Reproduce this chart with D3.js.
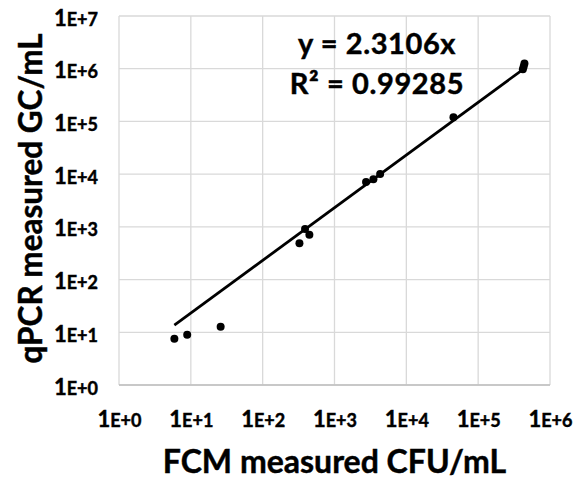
<!DOCTYPE html>
<html>
<head>
<meta charset="utf-8">
<script src="https://d3js.org/d3.v7.min.js"></script>
<style>
  body { margin: 0; background: #fff; }
  svg text { font-family: Lato, "Open Sans", sans-serif; font-weight: bold; fill: #000; stroke: #000; stroke-width: 0.45px; }
  .grid line { stroke: #d9d9d9; stroke-width: 1.3px; }
</style>
</head>
<body>
<div id="chart"></div>
<script>
// FCM (CFU/mL) vs qPCR (GC/mL)
const fcmValues = [5.9, 8.9, 26, 325, 389, 447, 2750, 3480, 4320, 45300, 419000, 430000, 441000]
const qpcrValues = [7.5, 9.0, 12.8, 489, 912, 711, 7100, 8000, 10100, 120000, 980000, 1100000, 1260000]
const slope = 2.3106
const eqLines = ['y = 2.3106x', 'R² = 0.99285']
const xTicks = [1e0, 1e1, 1e2, 1e3, 1e4, 1e5, 1e6]
const yTicks = [1e0, 1e1, 1e2, 1e3, 1e4, 1e5, 1e6, 1e7]

const width = 584
const height = 481
const margin = { top: 16, right: 34, bottom: 96, left: 119 }

const points = fcmValues.map((x, i) => ({ x, y: qpcrValues[i] }))

const svg = d3.select('#chart')
  .append('svg')
  .attr('width', width)
  .attr('height', height)

const x = d3.scaleLog().domain([1, 1e6]).range([margin.left, width - margin.right])
const y = d3.scaleLog().domain([1, 1e7]).range([height - margin.bottom, margin.top])

const expLabel = d => '1E+' + Math.round(Math.log10(d))

// the leading "1" is drawn a bit larger than "E+n", like in the source
function splitLabel(sel) {
  sel.each(function () {
    const t = d3.select(this)
    const s = t.text()
    t.text(null)
    t.append('tspan').attr('font-size', 22).text(s.slice(0, 1))
    t.append('tspan').attr('font-size', 18).text(s.slice(1))
  })
}

// gridlines
const grid = svg.append('g').attr('class', 'grid')
grid.selectAll('.vx')
  .data(xTicks)
  .enter().append('line')
    .attr('x1', d => x(d)).attr('x2', d => x(d))
    .attr('y1', y(1e7)).attr('y2', y(1))
grid.selectAll('.hy')
  .data(yTicks)
  .enter().append('line')
    .attr('x1', x(1)).attr('x2', x(1e6))
    .attr('y1', d => y(d)).attr('y2', d => y(d))

// bottom axis line a touch darker
svg.append('line')
  .attr('x1', x(1)).attr('x2', x(1e6))
  .attr('y1', y(1)).attr('y2', y(1))
  .attr('stroke', '#bfbfbf').attr('stroke-width', 1.3)

// x axis tick labels
const xAxis = svg.append('g')
  .attr('transform', `translate(0,${y(1)})`)
  .call(d3.axisBottom(x).tickValues(xTicks).tickFormat(expLabel).tickSize(0))
xAxis.select('.domain').remove()
xAxis.selectAll('text').attr('dy', 0).attr('y', 42)
  .style('font-family', 'Lato, sans-serif').call(splitLabel)

// y axis tick labels
const yAxis = svg.append('g')
  .attr('transform', `translate(${x(1)},0)`)
  .call(d3.axisLeft(y).tickValues(yTicks).tickFormat(expLabel).tickSize(0).tickPadding(21))
yAxis.select('.domain').remove()
yAxis.selectAll('text').attr('dy', 0).attr('y', 9)
  .style('font-family', 'Lato, sans-serif').call(splitLabel)

// trendline y = slope * x over the data range
const xMin = d3.min(fcmValues)
const xMax = d3.max(fcmValues)
const trend = [xMin, xMax].map(v => ({ x: v, y: slope * v }))
svg.append('path')
  .datum(trend)
  .attr('d', d3.line().x(d => x(d.x)).y(d => y(d.y)))
  .attr('stroke', '#000')
  .attr('stroke-width', 2.8)
  .attr('fill', 'none')

// points
svg.append('g')
  .selectAll('circle')
  .data(points)
  .enter().append('circle')
    .attr('cx', d => x(d.x))
    .attr('cy', d => y(d.y))
    .attr('r', 4)
    .attr('fill', '#000')

// equation label
const eq = svg.append('g').attr('font-size', 29).attr('letter-spacing', 0.6)
eq.append('text')
  .attr('x', 377).attr('y', 54)
  .attr('text-anchor', 'middle')
  .text(eqLines[0])
eq.append('text')
  .attr('x', 377).attr('y', 94)
  .attr('text-anchor', 'middle')
  .text(eqLines[1])

// axis titles
svg.append('text')
  .attr('x', (x(1) + x(1e6)) / 2).attr('y', 473)
  .attr('text-anchor', 'middle')
  .attr('font-size', 32)
  .text('FCM measured CFU/mL')

svg.append('text')
  .attr('transform', `translate(42,${(y(1) + y(1e7)) / 2 - 2}) rotate(-90)`)
  .attr('text-anchor', 'middle')
  .attr('font-size', 31.5)
  .text('qPCR measured GC/mL')
</script>
</body>
</html>
